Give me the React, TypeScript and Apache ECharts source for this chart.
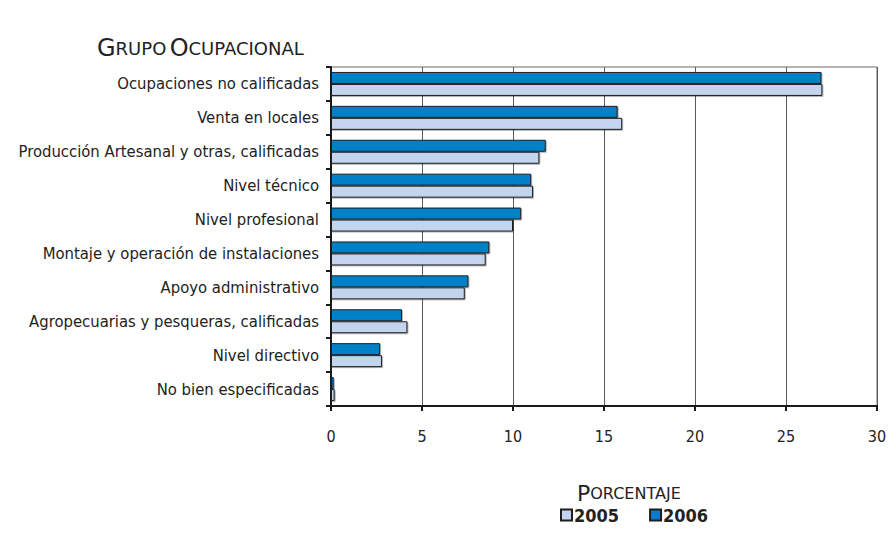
import React, { useEffect, useRef } from "react";
import * as echarts from "echarts";

const categories = [
  "Ocupaciones no calificadas",
  "Venta en locales",
  "Producción Artesanal y otras, calificadas",
  "Nivel técnico",
  "Nivel profesional",
  "Montaje y operación de instalaciones",
  "Apoyo administrativo",
  "Agropecuarias y pesqueras, calificadas",
  "Nivel directivo",
  "No bien especificadas",
];
const values2005 = [27.0, 16.0, 11.45, 11.1, 10.0, 8.5, 7.35, 4.2, 2.8, 0.2];
const values2006 = [26.95, 15.75, 11.8, 11.0, 10.45, 8.7, 7.55, 3.9, 2.7, 0.15];
const seriesNames = ["2005", "2006"];
const xMin = 0;
const xMax = 30;
const xStep = 5;

const FONT = "'DejaVu Sans Condensed', 'DejaVu Sans', sans-serif";
const TITLE_FONT = "'DejaVu Sans', sans-serif";

export default function App() {
  const ref = useRef<HTMLDivElement>(null);
  useEffect(() => {
    if (!ref.current) return;
    const chart = echarts.init(ref.current, undefined, { renderer: "svg" });
    const base = {
      borderColor: "#1e1e1e",
      borderWidth: 1,
      shadowColor: "rgba(0,0,0,0.3)",
      shadowOffsetX: 1,
      shadowOffsetY: 1,
      shadowBlur: 1,
    };
    chart.setOption({
      animation: false,
      backgroundColor: "#ffffff",
      grid: {
        left: 331,
        right: 13,
        top: 67,
        bottom: 145,
        show: true,
        borderColor: "#6a6a6a",
        borderWidth: 1,
        backgroundColor: "transparent",
      },
      graphic: [
        {
          type: "text",
          left: 97,
          top: 36,
          style: {
            text: "{b|G}{s|RUPO} {b|O}{s|CUPACIONAL}",
            fill: "#222",
            rich: {
              b: { fontSize: 24, fontFamily: TITLE_FONT, fill: "#222" },
              s: { fontSize: 18, fontFamily: TITLE_FONT, fill: "#222" },
            },
          },
        },
        {
          type: "text",
          left: 577,
          top: 482,
          style: {
            text: "{b|P}{s|ORCENTAJE}",
            fill: "#222",
            rich: {
              b: { fontSize: 22, fontFamily: TITLE_FONT, fill: "#222" },
              s: { fontSize: 16, fontFamily: TITLE_FONT, fill: "#222" },
            },
          },
        },
      ],
      legend: {
        data: seriesNames,
        left: 555,
        top: 501,
        icon: "rect",
        itemWidth: 11,
        itemHeight: 11,
        itemGap: 30,
        textStyle: {
          fontFamily: FONT,
          fontWeight: "bold",
          fontSize: 18,
          color: "#222",
          padding: [0, 0, 0, -3],
        },
      },
      xAxis: {
        type: "value",
        min: xMin,
        max: xMax,
        interval: xStep,
        axisLine: { show: true, lineStyle: { color: "#1a1a1a", width: 2 } },
        axisTick: { show: true, length: 5, lineStyle: { color: "#1a1a1a", width: 2 } },
        axisLabel: { fontFamily: FONT, fontSize: 16, color: "#222", margin: 22 },
        splitLine: { show: true, lineStyle: { color: "#5a5a5a", width: 1 } },
      },
      yAxis: {
        type: "category",
        data: categories,
        inverse: true,
        axisLine: { show: true, lineStyle: { color: "#1a1a1a", width: 2 } },
        axisTick: { show: true, length: 5, lineStyle: { color: "#1a1a1a", width: 2 } },
        axisLabel: { fontFamily: FONT, fontSize: 16.5, color: "#222", margin: 12 },
        splitLine: { show: false },
      },
      series: [
        {
          name: seriesNames[1],
          type: "bar",
          data: values2006,
          barWidth: 12,
          barGap: "0%",
          itemStyle: { color: "#0080c6", ...base },
        },
        {
          name: seriesNames[0],
          type: "bar",
          data: values2005,
          barWidth: 12,
          barGap: "0%",
          itemStyle: { color: "#c3d5ee", ...base },
        },
      ],
    });
    return () => chart.dispose();
  }, []);
  return (
    <div
      ref={ref}
      style={{ position: "fixed", left: 0, top: 0, width: 890, height: 551, background: "#fff" }}
    />
  );
}
